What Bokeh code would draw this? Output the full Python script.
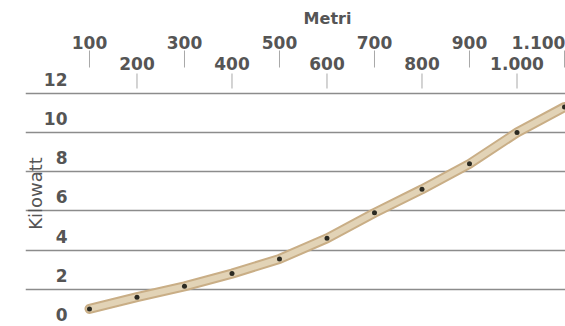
from math import pi
from bokeh.plotting import figure
from bokeh.models import ColumnDataSource, FixedTicker, Grid, Range1d
from bokeh.core.properties import value
from bokeh.embed import file_html
from bokeh.resources import INLINE

# ---- data ----
metri = [100, 200, 300, 400, 500, 600, 700, 800, 900, 1000, 1100]
kilowatt = [1.0, 1.6, 2.15, 2.8, 3.55, 4.6, 5.9, 7.1, 8.4, 10.0, 11.3]
x_ticks_odd = [100, 300, 500, 700, 900, 1100]
x_labels_odd = ["100", "300", "500", "700", "900", "1.100"]
x_ticks_even = [200, 400, 600, 800, 1000]
x_labels_even = ["200", "400", "600", "800", "1.000"]
y_ticks = [0, 2, 4, 6, 8, 10, 12]
y_tick_labels = ["0", "2", "4", "6", "8", "10", "12"]
x_title = "Metri"
y_title = "Kilowatt"

# ---- style ----
FONT = "DejaVu Sans"
TXT = "#555555"
TICK = "#a8a8a8"
odd_label_shift = [0, 0, 0, 0, 0, -26]   # keep the last label inside the picture

W, H = 565, 326
p = figure(width=W, height=H, output_backend="svg", toolbar_location=None,
           x_range=Range1d(-34.7, 1102.1), y_range=Range1d(0.102, 16.735),
           x_axis_location=None, y_axis_location=None,
           min_border_left=25, min_border_right=0, min_border_bottom=0, min_border_top=0)
# pixel ranges for the decorations (page pixels, y from the top)
p.extra_x_ranges = {"px": Range1d(25, W)}
p.extra_y_ranges = {"px": Range1d(H, 0)}
p.outline_line_color = None
p.background_fill_color = "white"
p.border_fill_color = "white"

for r in list(p.center):
    if isinstance(r, Grid):
        r.visible = False

# horizontal gridlines
p.add_layout(Grid(dimension=1, ticker=FixedTicker(ticks=y_ticks),
                  grid_line_color="#8c8c8c", grid_line_width=1.5))

# top tick marks (two staggered rows)
p.segment(x0=x_ticks_odd, x1=x_ticks_odd, y0=[50] * len(x_ticks_odd), y1=[67] * len(x_ticks_odd),
          y_range_name="px", line_color=TICK, line_width=1)
p.segment(x0=x_ticks_even, x1=x_ticks_even, y0=[73] * len(x_ticks_even), y1=[88] * len(x_ticks_even),
          y_range_name="px", line_color=TICK, line_width=1)

# top tick labels
p.text(x=x_ticks_odd, y=[42] * len(x_ticks_odd), text=x_labels_odd, x_offset=odd_label_shift,
       y_range_name="px", text_align="center", text_baseline="middle",
       text_font=value(FONT), text_font_style="bold", text_font_size="17px", text_color=TXT)
p.text(x=x_ticks_even, y=[63] * len(x_ticks_even), text=x_labels_even,
       y_range_name="px", text_align="center", text_baseline="middle",
       text_font=value(FONT), text_font_style="bold", text_font_size="17px", text_color=TXT)

# axis titles
p.text(x=[327], y=[18], text=[x_title], x_range_name="px", y_range_name="px",
       text_align="center", text_baseline="middle",
       text_font=value(FONT), text_font_style="bold", text_font_size="16px", text_color=TXT)
p.text(x=[35], y=[193], text=[y_title], x_range_name="px", y_range_name="px", angle=pi / 2,
       text_align="center", text_baseline="middle",
       text_font=value(FONT), text_font_size="18px", text_color=TXT)

# y tick labels, sitting above their gridlines
p.text(x=[67] * len(y_ticks), y=y_ticks, text=y_tick_labels, x_range_name="px", y_offset=-14,
       text_align="right", text_baseline="middle",
       text_font=value(FONT), text_font_style="bold", text_font_size="17px", text_color=TXT)

# line band and points
src = ColumnDataSource(dict(x=metri, y=kilowatt))
p.line("x", "y", source=src, line_width=10, line_color="#c9ae86", line_cap="round", line_join="round")
p.line("x", "y", source=src, line_width=6, line_color="#e2d3b6", line_cap="round", line_join="round")
p.scatter("x", "y", source=src, size=5, fill_color="#2b2a22", line_color=None)

open("out.html", "w").write(file_html(p, INLINE))
